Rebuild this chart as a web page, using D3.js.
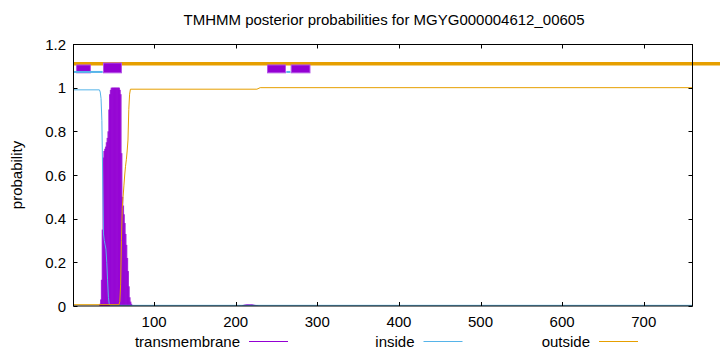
<!DOCTYPE html>
<html><head><meta charset="utf-8">
<script src="https://cdn.jsdelivr.net/npm/d3@7/dist/d3.min.js"></script>
<style>body{margin:0;background:#fff}svg{display:block}text{font-family:"Liberation Sans",Arial,sans-serif;fill:#000}</style>
</head><body><svg id="c" width="720" height="352"></svg>
<script>
// ---- data ----
const title = "TMHMM posterior probabilities for MGYG000004612_00605";
const xTicks = [100, 200, 300, 400, 500, 600, 700];
const yTicks = [0, 0.2, 0.4, 0.6, 0.8, 1, 1.2];
const seqLength = 760;
// transmembrane posterior (residue, value) drawn as impulses
const tmPos = [34,35,36,37,38,39,40,41,42,43,44,45,46,47,48,49,50,51,52,53,54,55,56,57,58,59,60,61,62,63,64,65,66,67,68,69,70,71,72,
               209,210,211,212,213,214,215,216,217,218,219,220,221,222,223,224,225,226,227];
const tmVal = [0.01,0.03,0.12,0.35,0.68,0.71,0.72,0.73,0.75,0.77,0.8,0.9,0.97,0.99,1,1,1,1,1,1,1,1,1,1,0.99,0.97,0.7,0.5,0.46,0.42,0.38,0.33,0.28,0.22,0.16,0.09,0.04,0.02,0.01,
               0.004,0.005,0.006,0.006,0.007,0.007,0.007,0.007,0.007,0.007,0.007,0.007,0.006,0.006,0.005,0.005,0.004,0.003,0.002];
// inside posterior (residue, value)
const inPos = [1,2,33,34,35,36,37,38,39,40,41,42,43,44,45,46,760];
const inVal = [1.0,0.99,0.99,0.98,0.95,0.85,0.6,0.33,0.3,0.28,0.26,0.2,0.12,0.04,0.01,0.003,0.003];
// outside posterior (residue, value)
const outPos = [1,57,58,59,60,61,62,63,64,65,66,67,68,69,70,71,226,230,760];
const outVal = [0.006,0.006,0.02,0.1,0.3,0.45,0.5,0.55,0.6,0.64,0.67,0.71,0.76,0.9,0.97,0.993,0.993,1.0,1.0];
// predicted topology segments [start, end]
const tmSegs = [[5,22],[38,60],[239,261],[268,291]];
const inSegs = [[1,37],[262,267]];
const outSegs = [[1,800]];
const legendNames = ["transmembrane", "inside", "outside"];

// ---- drawing ----
const colTM = "#9400d3", colIn = "#56b4e9", colOut = "#e69f00";
const svg = d3.select("#c");
const x = d3.scaleLinear().domain([1, seqLength]).range([73.3, 692.7]);
const y = d3.scaleLinear().domain([0, 1.2]).range([306, 44]);
const fs = "15px";

svg.append("text").attr("x", 384).attr("y", 25).attr("text-anchor", "middle")
  .style("font-size", fs).text(title);

svg.append("text").attr("transform", "translate(22,175) rotate(-90)")
  .attr("text-anchor", "middle").style("font-size", fs).text("probability");

const plot = svg.append("g");
// impulses
plot.selectAll("line.tm").data(tmPos.map((p, i) => [p, tmVal[i]])).enter()
  .append("line").attr("class", "tm")
  .attr("x1", d => x(d[0])).attr("x2", d => x(d[0]))
  .attr("y1", y(0)).attr("y2", d => y(d[1]))
  .attr("stroke", colTM).attr("stroke-width", 2).attr("stroke-opacity", 0.8);

const line = d3.line().x(d => x(d[0])).y(d => y(d[1]));
plot.append("path").datum(inPos.map((p, i) => [p, inVal[i]]))
  .attr("d", line).attr("fill", "none").attr("stroke", colIn).attr("stroke-width", 1);
plot.append("path").datum(outPos.map((p, i) => [p, outVal[i]]))
  .attr("d", line).attr("fill", "none").attr("stroke", colOut).attr("stroke-width", 1);

// topology bar
svg.selectAll("line.out").data(outSegs).enter().append("line")
  .attr("x1", d => x(d[0])).attr("x2", d => x(d[1]))
  .attr("y1", y(1.11)).attr("y2", y(1.11))
  .attr("stroke", colOut).attr("stroke-width", 3.5);
svg.selectAll("rect.tmseg").data(tmSegs).enter().append("rect")
  .attr("x", d => x(d[0])).attr("width", d => x(d[1]) - x(d[0]))
  .attr("y", (d, i) => i === 1 ? y(1.113) : y(1.104))
  .attr("height", (d, i) => i === 1 ? y(1.068) - y(1.113) : y(1.068) - y(1.104))
  .attr("fill", colTM).attr("stroke", "#b455e6").attr("stroke-width", 1);
svg.selectAll("line.inseg").data(inSegs).enter().append("line")
  .attr("x1", d => x(d[0])).attr("x2", d => x(d[1]))
  .attr("y1", y(1.072)).attr("y2", y(1.072))
  .attr("stroke", colIn).attr("stroke-width", 2);

// border
svg.append("rect").attr("x", 73.5).attr("y", 44.5).attr("width", 619).attr("height", 261.5)
  .attr("fill", "none").attr("stroke", "#000").attr("stroke-width", 1);

// ticks
const tl = 4;
xTicks.forEach(t => {
  const xx = Math.round(x(t)) + 0.5;
  svg.append("line").attr("x1", xx).attr("x2", xx).attr("y1", 306).attr("y2", 306 - tl).attr("stroke", "#000");
  svg.append("line").attr("x1", xx).attr("x2", xx).attr("y1", 44.5).attr("y2", 44.5 + tl).attr("stroke", "#000");
  svg.append("text").attr("x", x(t)).attr("y", 327).attr("text-anchor", "middle")
    .style("font-size", fs).text(t);
});
yTicks.forEach(t => {
  const yy = Math.round(y(t)) + 0.5;
  svg.append("line").attr("x1", 73.5).attr("x2", 73.5 + tl).attr("y1", yy).attr("y2", yy).attr("stroke", "#000");
  svg.append("line").attr("x1", 692.5).attr("x2", 692.5 - tl).attr("y1", yy).attr("y2", yy).attr("stroke", "#000");
  svg.append("text").attr("x", 66).attr("y", y(t) + 5.5).attr("text-anchor", "end")
    .style("font-size", fs).text(t);
});

// legend
const legTextEnd = [240, 414.5, 590];
const legColors = [colTM, colIn, colOut];
legendNames.forEach((n, i) => {
  svg.append("text").attr("x", legTextEnd[i]).attr("y", 347).attr("text-anchor", "end")
    .style("font-size", fs).text(n);
  svg.append("line").attr("x1", legTextEnd[i] + 9).attr("x2", legTextEnd[i] + 48)
    .attr("y1", 341.5).attr("y2", 341.5).attr("stroke", legColors[i]).attr("stroke-width", 1);
});
</script></body></html>
